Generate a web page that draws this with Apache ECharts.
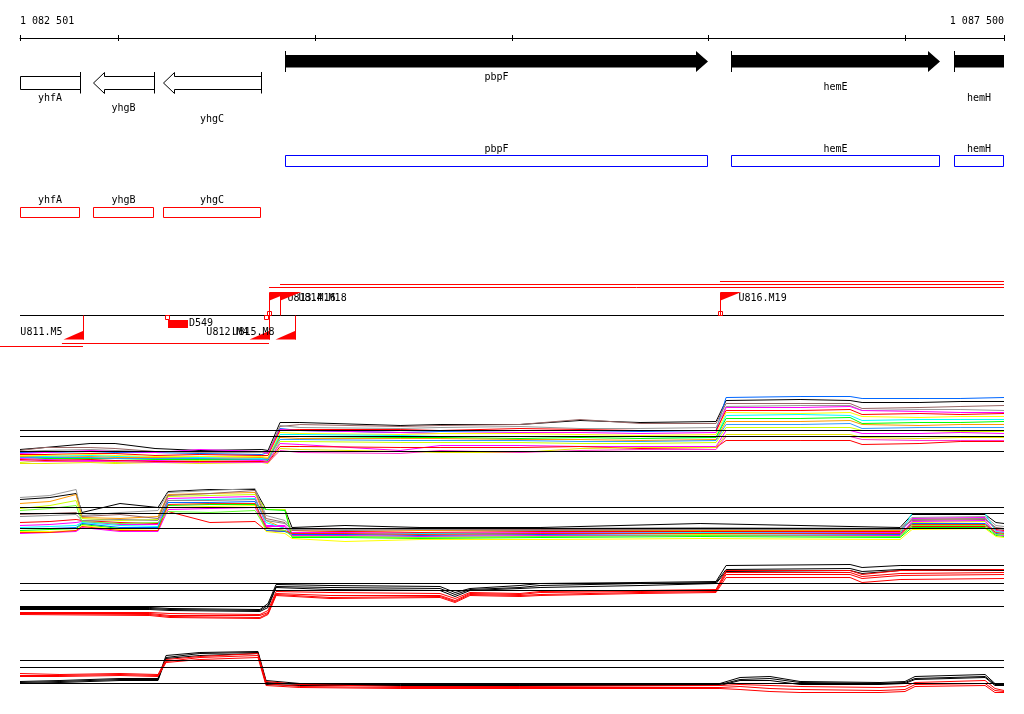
<!DOCTYPE html>
<html><head><meta charset="utf-8">
<script src="https://cdn.jsdelivr.net/npm/echarts@6/dist/echarts.min.js"></script>
<style>html,body{margin:0;padding:0;background:#fff}#c{width:1024px;height:714px}</style>
</head><body><div id="c"></div>
<script>
// ---------------- data ----------------
const X_MIN = 1082501, X_MAX = 1087500;
const rulerTicks = [1082501, 1083000, 1084000, 1085000, 1086000, 1087000, 1087500];
const rulerLabels = [1082501, 1087500];

const geneNames   = ['yhfA', 'yhgB', 'yhgC', 'pbpF', 'hemE', 'hemH'];
const geneStarts  = [1082250, 1082872, 1083227, 1083847, 1086113, 1087246];
const geneEnds    = [1082806, 1083182, 1083725, 1085996, 1087175, 1088300];
const geneStrands = ['-', '-', '-', '+', '+', '+'];

const tssNames  = ['U811.M5', 'U812.M4', 'U815.M8', 'U813.M16', 'U814.M18', 'U816.M19'];
const tssPos    = [1082821, 1083766, 1083898, 1083766, 1083822, 1086057];
const tssStrand = [-1, -1, -1, 1, 1, 1];
const txStarts  = [1083766, 1083822, 1086057, 1083766, 1082821];
const txEnds    = [1087500, 1087500, 1087500, 1082714, 1082399];
const txStrand  = [1, 1, 1, -1, -1];
const sitePos    = [1083766, 1086057, 1083248, 1083751];
const siteStrand = [1, 1, -1, -1];
const delNames  = ['D549'];
const delStarts = [1083253];
const delEnds   = [1083354];

const posA = [1082501,1082628,1082857,1082984,1083187,1083415,1083730,1083761,1083822,1083923,1084432,1084635,1085041,1085346,1085651,1086037,1086088,1086464,1086718,1086779,1087073,1087277,1087500];
const trackA = [
 [21,23,27,27,22,20,21,20,48,48,45,46,46,50,48,49,70,71,70,68,68,69,69],
 [18,18,19,18,18,17,16,18,42,40,38,39,40,40,39,40,73,74,74,72,72,72,73],
 [20,23,23,22,19,19,19,18,44,46,44,45,46,51,47,47,67,67,67,62,63,64,65],
 [19,20,21,20,19,18,18,17,45,43,42,43,44,42,42,43,64,65,65,60,61,61,60],
 [17,18,20,19,18,21,19,17,41,40,38,37,38,38,37,38,63,63,64,60,59,58,58],
 [16,16,17,17,15,16,15,15,40,41,41,40,42,41,40,40,60,60,61,56,57,56,57],
 [15,15,16,15,14,14,14,13,38,37,36,37,37,36,35,36,58,57,58,54,53,54,54],
 [14,14,15,14,13,13,12,12,36,36,35,34,34,34,34,33,55,56,55,50,51,51,51],
 [13,12,12,12,11,11,11,10,34,34,33,33,32,33,32,33,52,52,53,47,48,48,49],
 [14,13,14,13,13,12,13,12,33,32,32,32,31,31,30,31,49,49,50,46,45,46,46],
 [13,13,13,12,12,12,11,11,31,31,30,30,30,29,29,30,46,46,47,42,43,43,43],
 [8,10,9,8,9,10,9,8,29,29,28,28,28,27,27,28,43,43,43,40,40,39,39],
 [12,11,10,10,10,9,10,9,27,26,20,25,25,24,24,24,40,40,40,37,37,38,37],
 [11,10,11,10,9,9,9,8,24,24,23,23,23,24,22,23,30,30,30,26,27,29,29],
 [7,7,8,7,8,7,8,7,22,21,19,18,18,22,23,23,36,36,36,33,32,33,33],
 [10,9,9,9,8,8,8,8,20,18,17,20,18,20,21,21,34,34,34,31,30,30,30]
];
const colorsA = ['#000000','#0066ff','#996666','#999999','#ff00ff','#ff0000','#ffff00','#00ffff','#00ff00','#ff9900','#3399ff','#ccff00','#ff00ff','#ff0000','#e6e600','#ff33cc'];
const refA = [40, 34, 19];

const posB = [1082501,1082653,1082786,1082816,1083009,1083202,1083253,1083466,1083695,1083751,1083847,1083883,1084152,1084533,1085143,1085956,1086972,1087033,1087404,1087459,1087500];
const trackB = [
 [46,48,52,33,42,38,54,56,56,36,36,18,20,18,18,22,18,31,31,23,22],
 [48,50,56,30,33,35,53,55,57,30,25,17,16,17,17,18,17,28,29,20,19],
 [42,44,51,28,27,29,51,52,53,25,17,15,14,15,15,15,15,26,27,17,17],
 [37,40,45,27,25,26,49,50,51,36,36,10,9,8,9,11,9,23,24,13,14],
 [31,32,33,29,31,27,50,52,55,27,23,15,17,16,16,16,16,25,26,18,17],
 [23,24,26,25,23,22,34,23,24,15,14,13,14,13,14,14,14,19,19,16,15],
 [20,21,23,24,21,21,47,48,49,20,20,13,13,12,13,13,13,27,28,15,14],
 [18,19,20,23,20,19,45,46,47,23,17,12,11,12,12,13,12,32,32,14,13],
 [17,17,18,22,18,18,43,43,44,15,14,11,11,10,11,12,11,22,22,12,11],
 [15,16,17,21,17,17,40,41,41,36,35,8,8,7,8,9,8,18,18,10,9],
 [14,14,15,20,16,15,38,39,40,14,12,7,4,6,6,7,6,16,17,9,8],
 [12,13,14,18,14,14,36,37,38,19,19,10,10,9,10,10,10,24,25,11,10],
 [29,30,31,25,26,25,45,45,46,25,22,16,15,16,15,16,16,26,27,17,16],
 [13,13,15,19,15,15,41,42,42,18,15,12,12,11,12,12,12,21,21,13,12],
 [35,37,40,24,22,23,34,33,35,17,15,9,9,8,9,10,9,20,20,11,11]
];
const colorsB = ['#000000','#999999','#ff9900','#ccff00','#996666','#ff0000','#ff00ff','#00ffff','#0066ff','#00ff00','#ffff00','#ff00ff','#888888','#ff3300','#66ff33'];
const refB = [38, 32, 17];

const posC = [1082501,1083161,1083263,1083720,1083761,1083802,1084076,1084635,1084711,1084787,1085041,1085143,1085651,1086037,1086088,1086718,1086779,1086972,1087500];
const trackC = [
 [13,13,12,11,17,36,35,34,28,32,35,37,38,39,55,56,53,55,55],
 [12,12,11,10,15,34,33,32,26,31,33,35,37,38,51,52,49,51,51],
 [11,11,10,9,13,33,31,30,24,30,32,33,35,37,49,50,47,50,50],
 [8,8,7,6,10,29,28,27,22,28,27,29,30,31,50,50,46,50,51],
 [7,7,5,5,8,27,25,25,20,27,26,28,29,30,48,48,44,47,48],
 [7,6,4,3,7,26,23,24,19,26,25,26,28,29,46,46,42,45,46],
 [6,5,3,2,6,25,22,23,18,25,24,25,27,28,43,43,38,41,42]
];
const colorsC = ['#000000','#000000','#000000','#ff0000','#ff0000','#ff0000','#ff0000'];
const refC = [37, 30, 14];

const posD = [1082501,1082704,1083009,1083202,1083243,1083415,1083710,1083751,1083923,1084432,1085041,1086057,1086159,1086311,1086464,1086870,1086997,1087048,1087404,1087454,1087500];
const trackD = [
 [19,20,22,22,45,48,49,20,17,17,17,17,23,24,19,18,19,24,26,17,17],
 [18,19,21,21,43,47,48,18,16,16,16,16,21,22,18,17,18,22,24,16,16],
 [17,18,20,20,42,45,47,16,15,15,15,15,20,20,16,16,17,21,23,15,15],
 [27,26,27,26,41,44,47,19,16,14,14,15,16,15,14,13,14,18,20,12,10],
 [25,25,26,25,39,43,45,17,14,13,13,13,14,12,11,10,11,16,17,10,9],
 [24,24,25,24,38,41,43,15,13,12,12,12,11,9,8,8,9,14,15,8,8]
];
const colorsD = ['#000000','#000000','#000000','#ff0000','#ff0000','#ff0000'];
const refD = [40, 33, 17];

// ---------------- drawing ----------------
const FONT = '10px "DejaVu Sans Mono", monospace';
const RED = '#ff0000', BLUE = '#0000ff', BLACK = '#000000';
const px = (api, bp) => api.coord([bp, 0])[0];
const fmt = v => String(v).replace(/\B(?=(\d{3})+(?!\d))/g, ' ');
const sameBefore = (arr, i) => arr.slice(0, i).filter(s => s === arr[i]).length;
const txt = (text, x, y, align) => ({type: 'text', style: {text, x, y, font: FONT, fill: BLACK, align: align || 'center', verticalAlign: 'middle'}});

function geneGeom(api, i) {
  const clipL = geneStarts[i] < X_MIN, clipR = geneEnds[i] > X_MAX;
  const x1 = Math.round(px(api, Math.max(geneStarts[i], X_MIN)));
  const x2 = Math.round(px(api, Math.min(geneEnds[i], X_MAX)));
  return {clipL, clipR, x1, x2};
}

function renderGeneArrow(params, api) {
  const i = params.dataIndex, top = params.coordSys.y;
  const g = geneGeom(api, i), k = sameBefore(geneStrands, i);
  const ch = [];
  const x1 = g.x1, x2 = g.x2;
  if (geneStrands[i] === '+') {
    const yT = top + 15, yB = top + 27.5, hT = top + 11, hB = top + 32, yM = top + 21.5;
    const pts = g.clipR ? [[x1, yT], [x2, yT], [x2, yB], [x1, yB]]
      : [[x1, yT], [x2 - 12, yT], [x2 - 12, hT], [x2, yM], [x2 - 12, hB], [x2 - 12, yB], [x1, yB]];
    ch.push({type: 'polygon', shape: {points: pts}, style: {fill: BLACK}});
    if (!g.clipL) ch.push({type: 'line', shape: {x1: x1 + 0.5, y1: hT, x2: x1 + 0.5, y2: hB}, style: {stroke: BLACK, lineWidth: 1}});
    ch.push(txt(geneNames[i], (x1 + x2) / 2, top + 37 + 10.5 * k));
  } else {
    const yT = top + 36.5, yB = top + 49.5, hT = top + 32.5, hB = top + 53.5, yM = top + 43;
    const a = x1 + 0.5, b = x2 + 0.5;
    const pts = g.clipL ? [[a, yT], [b, yT], [b, yB], [a, yB]]
      : [[a, yM], [a + 11, hT], [a + 11, yT], [b, yT], [b, yB], [a + 11, yB], [a + 11, hB]];
    ch.push({type: 'polygon', shape: {points: pts}, style: {fill: '#ffffff', stroke: BLACK, lineWidth: 1}});
    if (!g.clipR) ch.push({type: 'line', shape: {x1: b, y1: hT - 0.5, x2: b, y2: hB}, style: {stroke: BLACK, lineWidth: 1}});
    ch.push(txt(geneNames[i], (x1 + x2) / 2, top + 58 + 10.5 * k));
  }
  return {type: 'group', children: ch};
}

function renderGeneBox(params, api) {
  const i = params.dataIndex, top = params.coordSys.y;
  const g = geneGeom(api, i);
  const plus = geneStrands[i] === '+';
  const yT = plus ? top + 115.5 : top + 167.5;
  const h = plus ? 11 : 10;
  const ly = plus ? top + 109 : top + 160;
  return {type: 'group', children: [
    {type: 'rect', shape: {x: g.x1 + 0.5, y: yT, width: g.x2 - g.x1 - 1, height: h}, style: {fill: null, stroke: plus ? BLUE : RED, lineWidth: 1}},
    txt(geneNames[i], (g.x1 + g.x2) / 2, ly)
  ]};
}

function renderTss(params, api) {
  const i = params.dataIndex;
  const c = api.coord([tssPos[i], 0]);
  const x = Math.round(c[0]) + 0.5, base = Math.floor(c[1]) + 0.5;
  const ch = [];
  if (tssStrand[i] > 0) {
    ch.push({type: 'line', shape: {x1: x, y1: base, x2: x, y2: base - 23}, style: {stroke: RED, lineWidth: 1}});
    ch.push({type: 'polygon', shape: {points: [[x, base - 23.5], [x + 21, base - 23.5], [x, base - 15]]}, style: {fill: RED}});
    ch.push(txt(tssNames[i], x + 18, base - 17.5, 'left'));
  } else {
    ch.push({type: 'line', shape: {x1: x, y1: base, x2: x, y2: base + 24}, style: {stroke: RED, lineWidth: 1}});
    ch.push({type: 'polygon', shape: {points: [[x + 0.5, base + 15], [x + 0.5, base + 24], [x - 20, base + 24]]}, style: {fill: RED}});
    ch.push(txt(tssNames[i], x - 21, base + 16.5, 'right'));
  }
  return {type: 'group', children: ch};
}

function renderTx(params, api) {
  const i = params.dataIndex;
  const c1 = api.coord([txStarts[i], 0]), c2 = api.coord([txEnds[i], 0]);
  const base = Math.floor(c1[1]);
  const lvl = sameBefore(txStrand, i);
  const y = txStrand[i] > 0 ? base - 28 - 3 * lvl + 0.5 : base + 28 + 3 * lvl + 0.5;
  return {type: 'line', shape: {x1: c1[0], y1: y, x2: c2[0], y2: y}, style: {stroke: RED, lineWidth: 1}};
}

function renderSite(params, api) {
  const i = params.dataIndex;
  const c = api.coord([sitePos[i], 0]);
  const x = Math.round(c[0]), base = Math.floor(c[1]);
  const y = siteStrand[i] > 0 ? base - 4 : base;
  return {type: 'rect', shape: {x: x - 2 + 0.5, y: y + 0.5, width: 4, height: 4}, style: {fill: null, stroke: RED, lineWidth: 1}};
}

function renderDel(params, api) {
  const i = params.dataIndex;
  const c1 = api.coord([delStarts[i], 0]), c2 = api.coord([delEnds[i], 0]);
  const base = Math.floor(c1[1]);
  return {type: 'group', children: [
    {type: 'rect', shape: {x: Math.round(c1[0]), y: base + 5, width: Math.round(c2[0]) - Math.round(c1[0]), height: 8}, style: {fill: RED}},
    txt(delNames[i], Math.round(c2[0]) + 1, base + 8.5, 'left')
  ]};
}

// ---------------- option ----------------
const trackGrids = [[385.5, 85], [475.5, 70], [555.5, 65], [640.5, 60]];
const grid = [
  {left: 20, right: 20, top: 38, height: 3},
  {left: 20, right: 20, top: 40, height: 190},
  {left: 20, right: 20, top: 270.5, height: 90}
].concat(trackGrids.map(t => ({left: 20, right: 20, top: t[0], height: t[1]})));

const hiddenX = gi => ({gridIndex: gi, type: 'value', min: X_MIN, max: X_MAX, show: false});
const xAxis = [
  {gridIndex: 0, type: 'value', min: X_MIN, max: X_MAX, position: 'top',
   axisLine: {show: true, onZero: false, lineStyle: {color: BLACK, width: 1}},
   axisTick: {show: true, inside: false, length: 3, customValues: rulerTicks, lineStyle: {color: BLACK, width: 1}},
   axisLabel: {show: true, customValues: rulerLabels, formatter: fmt, margin: 12, color: BLACK,
     fontFamily: '"DejaVu Sans Mono", monospace', fontSize: 10, alignMinLabel: 'left', alignMaxLabel: 'right'},
   splitLine: {show: false}},
  {gridIndex: 0, type: 'value', min: X_MIN, max: X_MAX, position: 'bottom',
   axisLine: {show: false, onZero: false},
   axisTick: {show: true, inside: true, length: 3, customValues: rulerTicks, lineStyle: {color: BLACK, width: 1}},
   axisLabel: {show: false}, splitLine: {show: false}},
  hiddenX(1), hiddenX(2), hiddenX(3), hiddenX(4), hiddenX(5), hiddenX(6)
];
const yAxis = [
  {gridIndex: 0, type: 'value', min: 0, max: 1, show: false},
  {gridIndex: 1, type: 'value', min: 0, max: 190, inverse: true, show: false},
  {gridIndex: 2, type: 'value', min: -45, max: 45, show: false}
].concat(trackGrids.map((t, j) => ({gridIndex: 3 + j, type: 'value', min: 0, max: t[1], show: false})));

const series = [];
const idxData = n => Array.from({length: n}, (_, i) => [X_MIN, 0, i]);
series.push({type: 'custom', xAxisIndex: 2, yAxisIndex: 1, renderItem: renderGeneArrow, data: idxData(geneNames.length), clip: false, silent: true});
series.push({type: 'custom', xAxisIndex: 2, yAxisIndex: 1, renderItem: renderGeneBox, data: idxData(geneNames.length), clip: false, silent: true});
series.push({type: 'line', xAxisIndex: 3, yAxisIndex: 2, data: [[X_MIN, 0], [X_MAX, 0]], symbol: 'none', lineStyle: {color: BLACK, width: 1}, silent: true, z: 2});
series.push({type: 'custom', xAxisIndex: 3, yAxisIndex: 2, renderItem: renderTx, data: idxData(txStarts.length), clip: false, silent: true, z: 3});
series.push({type: 'custom', xAxisIndex: 3, yAxisIndex: 2, renderItem: renderTss, data: idxData(tssNames.length), clip: false, silent: true, z: 3});
series.push({type: 'custom', xAxisIndex: 3, yAxisIndex: 2, renderItem: renderSite, data: idxData(sitePos.length), clip: false, silent: true, z: 3});
series.push({type: 'custom', xAxisIndex: 3, yAxisIndex: 2, renderItem: renderDel, data: idxData(delNames.length), clip: false, silent: true, z: 3});

const tracks = [[posA, trackA, colorsA, refA], [posB, trackB, colorsB, refB], [posC, trackC, colorsC, refC], [posD, trackD, colorsD, refD]];
tracks.forEach((t, j) => {
  const [pos, rows, cols, refs] = t;
  rows.forEach((vals, r) => series.push({
    type: 'line', xAxisIndex: 4 + j, yAxisIndex: 3 + j, data: pos.map((p, k) => [p, vals[k]]),
    symbol: 'none', showSymbol: false, lineStyle: {width: 1, color: cols[r]}, itemStyle: {color: cols[r]}, silent: true, z: 2
  }));
  refs.forEach(v => series.push({
    type: 'line', xAxisIndex: 4 + j, yAxisIndex: 3 + j, data: [[X_MIN, v], [X_MAX, v]],
    symbol: 'none', lineStyle: {width: 1, color: BLACK}, silent: true, z: 4
  }));
});

const chart = echarts.init(document.getElementById('c'), null, {renderer: 'canvas'});
chart.setOption({animation: false, backgroundColor: '#ffffff', grid, xAxis, yAxis, series});
</script>
</body></html>
